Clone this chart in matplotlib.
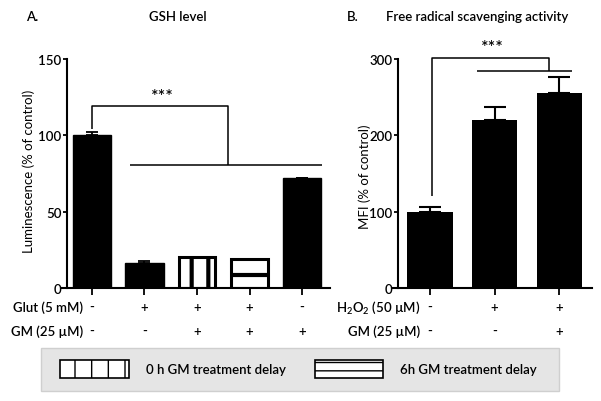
import matplotlib
matplotlib.use("Agg")
import matplotlib.pyplot as plt
from matplotlib.patches import Patch, Rectangle

plt.rcParams["font.family"] = ["Lato", "DejaVu Sans"]
plt.rcParams["font.weight"] = "semibold"
plt.rcParams["font.size"] = 9.5
plt.rcParams["mathtext.default"] = "regular"

# panel A: GSH level
glut_row = ["-", "+", "+", "+", "-"]
gm_row_a = ["-", "-", "+", "+", "+"]
gsh = [100, 16.5, 20.5, 19, 72]
gsh_err = [2.5, 1.2, 0, 0, 0]
gsh_hatch = [None, None, "|", "-", None]

# panel B: free radical scavenging
h2o2_row = ["-", "+", "+"]
gm_row_b = ["-", "-", "+"]
mfi = [99, 220, 255]
mfi_err = [6.5, 17, 21]

legend_labels = ["0 h GM treatment delay", "6h GM treatment delay"]

W, H = 601, 402


def fx(px):
    return px / W


def fy(py):
    return (H - py) / H


def style_axis(ax, spine_x):
    for s in ["top", "right"]:
        ax.spines[s].set_visible(False)
    ax.spines["left"].set_position(("data", spine_x))
    for s in ["left", "bottom"]:
        ax.spines[s].set_linewidth(1.5)
    ax.tick_params(axis="y", length=3, width=1.3, pad=1, labelsize=9.5)
    ax.tick_params(axis="x", length=5, width=1.3, labelbottom=False)


def table_rows(ax, row_names, rows, label_x):
    ys = [-0.083, -0.188]
    tr = ax.get_xaxis_transform()
    for name, row, y in zip(row_names, rows, ys):
        ax.text(label_x, y, name, transform=tr, ha="right", va="center")
        for i, v in enumerate(row):
            ax.text(i, y, v, transform=tr, ha="center", va="center")


def bracket(ax, xs, ys):
    ax.plot(xs, ys, color="black", lw=1.1, clip_on=False, solid_capstyle="butt")


fig = plt.figure(figsize=(6.01, 4.02), dpi=100)

# ---- panel A
axA = fig.add_axes([fx(62), fy(289), fx(330) - fx(62), 229 / H])
xa = list(range(len(gsh)))
for i, (v, h) in enumerate(zip(gsh, gsh_hatch)):
    if h is None:
        axA.bar(i, v, width=0.74, color="black", edgecolor="black", zorder=2)
    else:
        b = axA.bar(i, v, width=0.7, facecolor="white", edgecolor="black",
                    linewidth=2.2, hatch=h, zorder=2)
        for p in b:
            p.set_hatch_linewidth(3)
axA.errorbar(xa, gsh, yerr=[[0] * len(gsh), gsh_err], fmt="none", ecolor="black",
             elinewidth=1.3, capsize=4, capthick=1.3, zorder=3)
axA.set_xlim(-0.571, 4.533)
axA.set_ylim(0, 150)
axA.set_yticks([0, 50, 100, 150])
axA.set_xticks(xa)
style_axis(axA, -0.476)
axA.set_ylabel("Luminescence (% of control)")
axA.yaxis.set_label_coords(fx(35), fy(171), transform=fig.transFigure)
table_rows(axA, ["Glut (5 mM)", "GM (25 \u00b5M)"], [glut_row, gm_row_a], -0.17)
bracket(axA, [0, 0, 2.59, 2.59], [104, 119, 119, 80.4])
bracket(axA, [0.724, 4.38], [80.4, 80.4])
axA.text(1.35, 126, "***", ha="center", va="center", fontsize=13)

# ---- panel B
axB = fig.add_axes([fx(393), fy(289), fx(592) - fx(393), 229 / H])
xb = list(range(len(mfi)))
axB.bar(xb, mfi, width=0.7, color="black", zorder=2)
axB.errorbar(xb, mfi, yerr=[[0] * len(mfi), mfi_err], fmt="none", ecolor="black",
             elinewidth=1.5, capsize=8, capthick=1.5, zorder=1)
axB.set_xlim(-0.574, 2.51)
axB.set_ylim(0, 300)
axB.set_yticks([0, 100, 200, 300])
axB.set_xticks(xb)
style_axis(axB, -0.496)
axB.set_ylabel("MFI (% of control)")
axB.yaxis.set_label_coords(fx(371), fy(177), transform=fig.transFigure)
table_rows(axB, ["H$_2$O$_2$ (50 \u00b5M)", "GM (25 \u00b5M)"], [h2o2_row, gm_row_b], -0.155)
bracket(axB, [0.03, 0.03, 1.845, 1.845], [120.6, 301.4, 301.4, 284.4])
bracket(axB, [0.73, 2.2], [284.4, 284.4])
axB.text(0.96, 316, "***", ha="center", va="center", fontsize=13, clip_on=False)

# titles
fig.text(fx(32), fy(17), "A.", ha="center", va="center")
fig.text(fx(178), fy(17), "GSH level", ha="center", va="center")
fig.text(fx(353), fy(17), "B.", ha="center", va="center")
fig.text(fx(477), fy(17), "Free radical scavenging activity", ha="center", va="center")

# legend box
fig.add_artist(Rectangle((fx(41), fy(392)), fx(559) - fx(41), 43 / H,
                         transform=fig.transFigure, facecolor="#e5e5e5",
                         edgecolor="#cfcfcf", lw=1))
handles = [
    Patch(facecolor="white", edgecolor="black", hatch="|", lw=1.2, label=legend_labels[0]),
    Patch(facecolor="white", edgecolor="black", hatch="--", lw=1.2, label=legend_labels[1]),
]
fig.legend(handles=handles, loc="center", ncol=2, mode="expand", frameon=False,
           bbox_to_anchor=(fx(60), fy(381), fx(537) - fx(60), 22 / H),
           borderpad=0, borderaxespad=0, handlelength=5.2, handleheight=1.7,
           handletextpad=1.3)

fig.savefig("out.png", dpi=100)
